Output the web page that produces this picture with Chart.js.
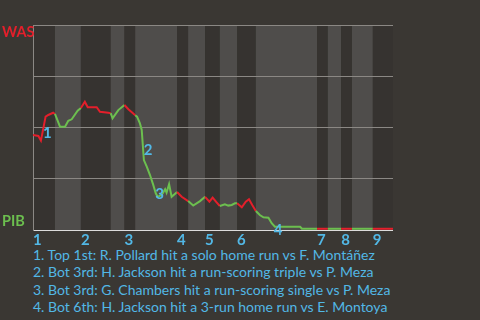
<!DOCTYPE html>
<html>
<head>
<meta charset="utf-8">
<script src="https://cdn.jsdelivr.net/npm/chart.js@4.4.1/dist/chart.umd.min.js"></script>
<style>
  html, body { margin: 0; padding: 0; background: #3a3733; width: 480px; height: 320px; overflow: hidden; }
  #wrap { position: relative; width: 480px; height: 245px; }
  #notes { position: absolute; left: 33px; top: 245.5px; font: 14px Lato, sans-serif; line-height: 17.5px; color: #52b8e6; white-space: nowrap; }
</style>
</head>
<body>
<div id="wrap"><canvas id="wp" width="480" height="245"></canvas></div>
<div id="notes"></div>
<script>
// play index (x) and Washington win probability in % (y)
const plays = [
  0, 1.5, 2.2, 3.5, 4.25, 5.6, 6.1,
  7.5, 8.9, 9.8, 10.75, 12.4, 13.3,
  14.4, 15.2, 17.7, 18.6, 20.9, 21.6,
  22.1, 23.7, 25.4,
  26.5, 28.4,
  28.9, 29.7, 30.2, 30.8, 31.6, 32.5, 33.4, 34.1, 34.6, 35.75, 36.7, 37.1, 37.8, 38.5, 39.4, 40.0,
  41.3, 43.1,
  44.5, 46.4, 47.8,
  49.0, 49.9, 51.0, 51.9,
  53.3, 54.25, 55.2, 56.1, 56.7,
  58.0, 59.1, 60.0, 60.9, 61.9,
  63.0, 64.0, 65.4, 66.3, 67.2, 74.2, 74.7, 78.9,
  81.9, 85.6, 88.6, 94.4, 100
];
const wasWinPct = [
  46.3, 45.9, 43.6, 55.3, 56.1, 57.2, 56.6,
  50.4, 50.4, 53.3, 54.0, 58.2, 59.5,
  62.6, 59.9, 59.9, 57.7, 57.2, 57.0,
  54.5, 58.5, 61.0,
  58.9, 56.0,
  55.3, 52.0, 48.8, 34.1, 30.9, 26.8, 22.0, 17.9, 16.2, 17.1, 19.9, 18.2, 22.4, 16.2, 17.6, 18.5,
  16.2, 14.1,
  11.9, 14.1, 16.2,
  13.8, 15.8, 13.5, 11.7,
  12.5, 11.9, 12.2, 13.0, 13.0,
  11.1, 13.8, 15.0, 12.2, 9.3,
  7.3, 6.2, 6.0, 3.3, 1.6, 1.6, 0.6, 0.6,
  0.6, 0.6, 0.6, 0.6, 0.6
];
// start of every half inning (top 1st, bot 1st, ... top 9th), last = end of game
const halfStarts = [0, 6.1, 13.3, 21.6, 25.4, 28.4, 40.0, 43.1, 47.8, 51.9, 56.7, 61.9, 78.9, 81.9, 85.6, 88.6, 94.4, 100];
const inningLabels = ['1', '2', '3', '4', '5', '6', '7', '8', '9'];
const yGrid = [0, 25, 50, 75, 100];
const teams = ['WAS', 'PIB'];
// index into plays of the key moments
const keyPlays = [3, 27, 31, 63];
const keyNotes = [
  '1. Top 1st: R. Pollard hit a solo home run vs F. Montáñez',
  '2. Bot 3rd: H. Jackson hit a run-scoring triple vs P. Meza',
  '3. Bot 3rd: G. Chambers hit a run-scoring single vs P. Meza',
  '4. Bot 6th: H. Jackson hit a 3-run home run vs E. Montoya'
];

const RED = '#e41f2b';
const GREEN = '#6cbf4f';
const BLUE = '#52b8e6';
const BAND_DARK = '#363330';
const BAND_LIGHT = '#4f4d4b';

function halfOf(x) {
  let h = 0;
  for (let i = 0; i < halfStarts.length - 1; i++) {
    if (x >= halfStarts[i] - 1e-6) h = i;
  }
  return h;
}

const decor = {
  id: 'decor',
  beforeDraw(chart) {
    const { ctx, chartArea: a, scales: { x } } = chart;
    ctx.save();
    for (let i = 0; i < halfStarts.length - 1; i++) {
      const x0 = x.getPixelForValue(halfStarts[i]);
      const x1 = x.getPixelForValue(halfStarts[i + 1]);
      ctx.fillStyle = i % 2 === 0 ? BAND_DARK : BAND_LIGHT;
      ctx.fillRect(x0, a.top, x1 - x0, a.bottom - a.top);
    }
    ctx.restore();
  },
  afterDatasetsDraw(chart) {
    const { ctx, chartArea: a, scales: { x, y } } = chart;
    ctx.save();
    ctx.textBaseline = 'middle';
    ctx.textAlign = 'left';
    ctx.font = 'bold 14.5px Lato, sans-serif';
    ctx.fillStyle = RED;
    ctx.fillText(teams[0], 2, y.getPixelForValue(100) + 7.5);
    ctx.fillStyle = GREEN;
    ctx.fillText(teams[1], 2, y.getPixelForValue(0) - 8.5);

    ctx.font = 'bold 15px Lato, sans-serif';
    ctx.fillStyle = BLUE;
    inningLabels.forEach((lab, i) => {
      ctx.fillText(lab, x.getPixelForValue(halfStarts[i * 2]), a.bottom + 10);
    });

    keyPlays.forEach((idx, i) => {
      const px = x.getPixelForValue(plays[idx - 1]);
      const py = (y.getPixelForValue(wasWinPct[idx - 1]) + y.getPixelForValue(wasWinPct[idx])) / 2;
      ctx.fillText(String(i + 1), px + 2, py + 5);
    });
    ctx.restore();
  }
};

new Chart(document.getElementById('wp'), {
  type: 'line',
  data: {
    datasets: [{
      data: plays.map((p, i) => ({ x: p, y: wasWinPct[i] })),
      borderWidth: 2,
      pointRadius: 0,
      tension: 0,
      segment: {
        borderColor: c => (halfOf(c.p0.parsed.x) % 2 === 0 ? RED : GREEN)
      }
    }]
  },
  options: {
    responsive: false,
    animation: false,
    devicePixelRatio: 1,
    layout: { padding: { left: 33, right: 87, top: 25, bottom: 15 } },
    plugins: { legend: { display: false }, tooltip: { enabled: false } },
    scales: {
      x: { type: 'linear', min: 0, max: 100, display: false },
      y: {
        min: 0, max: 100,
        afterBuildTicks: s => { s.ticks = yGrid.map(v => ({ value: v })); },
        ticks: { display: false },
        grid: {
          drawTicks: false,
          color: c => (c.tick.value === 0 ? '#dcdcdc' : '#8b8884'),
          lineWidth: 1
        },
        border: { display: true, color: '#8b8884' }
      }
    }
  },
  plugins: [decor]
});

document.getElementById('notes').innerHTML = keyNotes.map(t => '<div>' + t + '</div>').join('');
</script>
</body>
</html>
